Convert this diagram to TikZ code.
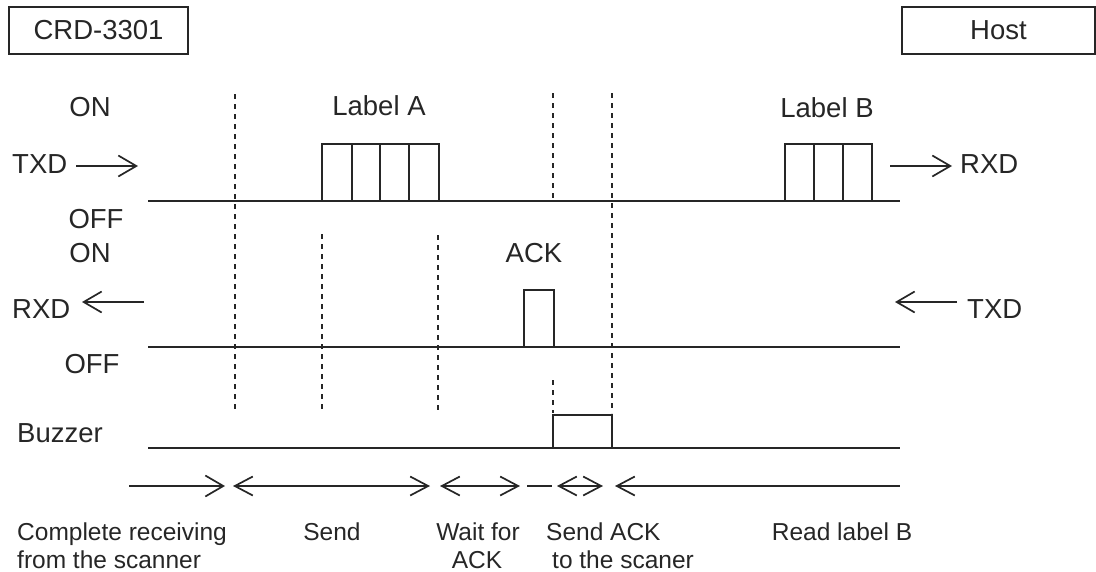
\documentclass[tikz,border=0pt]{standalone}
\usepackage{fontspec}
\setmainfont{Liberation Sans}
\usetikzlibrary{arrows.meta}
\begin{document}
\begin{tikzpicture}[x=1pt,y=-1pt,
  sig/.style={line width=1.6pt,color=black!85},
  cell/.style={line width=1.4pt,color=black!85},
  dsh/.style={line width=2.2pt,dash pattern=on 5pt off 5pt,color=black!85},
  arr/.style={line width=1.6pt,color=black!85},
  tip/.style={-{Straight Barb[length=18pt,width=21pt,line width=1.7pt]}},
  tipb/.style={{Straight Barb[length=18pt,width=19pt,line width=1.7pt]}-{Straight Barb[length=18pt,width=19pt,line width=1.7pt]}},
  tipl/.style={{Straight Barb[length=18pt,width=19pt,line width=1.7pt]}-},
  lbl/.style={font=\fontsize{27.5}{30}\selectfont,inner sep=0pt,text=black!85},
  small/.style={font=\fontsize{24.5}{28}\selectfont,inner sep=0pt,text=black!85},
  hdr/.style={draw,line width=1.6pt,color=black!85,minimum width=179pt,minimum height=47pt,inner sep=0pt,font=\fontsize{27.5}{30}\selectfont}]
\useasboundingbox (0,0) rectangle (1096,571);

% header boxes
\node[hdr] (crd) at (98.5,30.5) {CRD-3301};
\node[hdr,minimum width=193pt] (host) at (998.5,30.5) {Host};

% left labels
\node[lbl,anchor=base] (on1) at (90,116) {ON};
\node[lbl,anchor=base west] (txd1) at (12,173) {TXD};
\node[lbl,anchor=base] (off1) at (96,228) {OFF};
\node[lbl,anchor=base] (on2) at (90,262) {ON};
\node[lbl,anchor=base west] (rxd1) at (12,318) {RXD};
\node[lbl,anchor=base] (off2) at (92,373) {OFF};
\node[lbl,anchor=base west] (buz) at (17,442) {Buzzer};

% right labels
\node[lbl,anchor=base west] (rxd2) at (960,173) {RXD};
\node[lbl,anchor=base west] (txd2) at (967,318) {TXD};

% labels in the plot
\node[lbl,anchor=base] (la) at (379,115) {Label A};
\node[lbl,anchor=base] (lb) at (827,117) {Label B};
\node[lbl,anchor=base] (ack) at (534,262) {ACK};

% side arrows
\coordinate (t1a) at (76,166); \coordinate (t1b) at (138,166);
\draw[arr,tip] (t1a) -- (t1b);
\coordinate (r1a) at (144,302); \coordinate (r1b) at (82,302);
\draw[arr,tip] (r1a) -- (r1b);
\coordinate (r2a) at (890,166); \coordinate (r2b) at (952,166);
\draw[arr,tip] (r2a) -- (r2b);
\coordinate (t2a) at (957,302); \coordinate (t2b) at (895,302);
\draw[arr,tip] (t2a) -- (t2b);

% signal baselines
\draw[sig] (148,201) -- (900,201);
\draw[sig] (148,347) -- (900,347);
\draw[sig] (148,448) -- (900,448);

% Label A cells
\draw[cell] (322,201) |- (439,144) -- (439,201);
\foreach \x in {352,380,409} \draw[cell] (\x,144) -- (\x,201);
% Label B cells
\draw[cell] (785,201) |- (872,144) -- (872,201);
\foreach \x in {814,843} \draw[cell] (\x,144) -- (\x,201);
% ACK pulse
\draw[cell] (524,347) |- (554,290) -- (554,347);
% Buzzer pulse
\draw[cell] (553,448) |- (612,415) -- (612,448);

% dashed markers
\draw[dsh] (235,94) -- (235,413);
\draw[dsh] (322,234) -- (322,413);
\draw[dsh] (438,235) -- (438,413);
\draw[dsh] (553,93) -- (553,200);
\draw[dsh] (553,380) -- (553,413);
\draw[dsh] (612,93) -- (612,413);

% bottom interval arrows
\coordinate (b1a) at (129,486); \coordinate (b1b) at (225,486);
\draw[arr,tip] (b1a) -- (b1b);
\coordinate (b2a) at (233,486); \coordinate (b2b) at (430,486);
\draw[arr,tipb] (b2a) -- (b2b);
\coordinate (b3a) at (440,486); \coordinate (b3b) at (520,486);
\draw[arr,tipb] (b3a) -- (b3b);
\coordinate (b4a) at (527,486); \coordinate (b4b) at (552,486);
\draw[arr] (b4a) -- (b4b);
\coordinate (b5a) at (557,486); \coordinate (b5b) at (603,486);
\draw[arr,tipb] (b5a) -- (b5b);
\coordinate (b6a) at (615,486); \coordinate (b6b) at (900,486);
\draw[arr,tipl] (b6a) -- (b6b);

% bottom texts
\node[small,anchor=base west] (c1) at (17,540) {Complete receiving};
\node[small,anchor=base west] (c2) at (17,568) {from the scanner};
\node[small,anchor=base] (snd) at (332,540) {Send};
\node[small,anchor=base] (w1) at (478,540) {Wait for};
\node[small,anchor=base] (w2) at (477,568) {ACK};
\node[small,anchor=base west] (s1) at (546,540) {Send ACK};
\node[small,anchor=base west] (s2) at (552,568) {to the scaner};
\node[small,anchor=base] (rb) at (842,540) {Read label B};
\end{tikzpicture}
\end{document}
